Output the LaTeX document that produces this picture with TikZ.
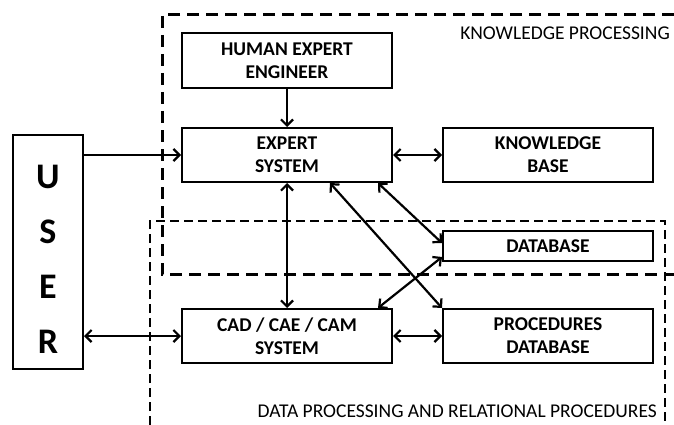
\documentclass[tikz,border=0pt]{standalone}
\usepackage{fontspec}
\setmainfont{Carlito}
\usetikzlibrary{arrows.meta}

\tikzset{
    block/.style={draw, line width=2pt, inner sep=0pt, align=center,
        minimum width=210pt, font=\bfseries\fontsize{19.5}{23}\selectfont},
    arr/.style={line width=2.2pt, -{Straight Barb[length=6pt,width=12pt]}},
    darr/.style={line width=2.2pt, {Straight Barb[length=6pt,width=12pt]}-{Straight Barb[length=6pt,width=12pt]}},
    zone/.style={line width=3pt, dash pattern=on 12pt off 7pt},
    zonelabel/.style={inner sep=0pt, anchor=east, font=\fontsize{19.5}{22}\selectfont}
}

\begin{document}
\begin{tikzpicture}[x=1pt, y=-1pt]
            \useasboundingbox (0,0) rectangle (674,425);

            % Draw the two processing zones
            \draw[zone] (674,15) -- (162,15) -- (162,274) -- (674,274);
            \draw[zone, line width=2.6pt, dash pattern=on 9pt off 5pt] (150,425) -- (150,221) -- (665,221) -- (665,425);
            \node[zonelabel] (kp) at (670,33) {KNOWLEDGE PROCESSING};
            \node[zonelabel] (dp) at (657,411) {DATA PROCESSING AND RELATIONAL PROCEDURES};

            % Draw the blocks
            \node[block, minimum width=70pt, minimum height=234pt,
                font=\bfseries\fontsize{36}{55}\selectfont] (user) at (48,252) {\rule{0pt}{37pt}U\\S\\E\\R};
            \node[block, minimum height=55pt] (human) at (287,60.5) {HUMAN EXPERT\\ENGINEER};
            \node[block, minimum height=54pt] (expert) at (287,155) {EXPERT\\SYSTEM};
            \node[block, minimum height=54pt] (kbase) at (548,155) {KNOWLEDGE\\BASE};
            \node[block, minimum height=30pt] (dbase) at (548,246) {DATABASE};
            \node[block, minimum height=54pt] (cad) at (287,336) {CAD / CAE / CAM\\SYSTEM};
            \node[block, minimum height=54pt] (proc) at (548,336) {PROCEDURES\\DATABASE};

            % Draw the links
            \draw[arr] (human) -- (expert);
            \draw[arr] (user.east |- expert.west) -- (expert.west);
            \draw[darr] (user.east |- cad.west) -- (cad.west);
            \draw[darr] (expert) -- (kbase);
            \draw[darr] (expert) -- (cad);
            \draw[darr] (cad) -- (proc);
            \draw[darr] ([xshift=43pt]expert.south) -- (proc.north west);
            \draw[darr] ([xshift=-15pt]expert.south east) -- ([yshift=3pt]dbase.west);
            \draw[darr] ([xshift=-15pt]cad.north east) -- ([yshift=5pt]dbase.south west);

        \end{tikzpicture}
\end{document}
